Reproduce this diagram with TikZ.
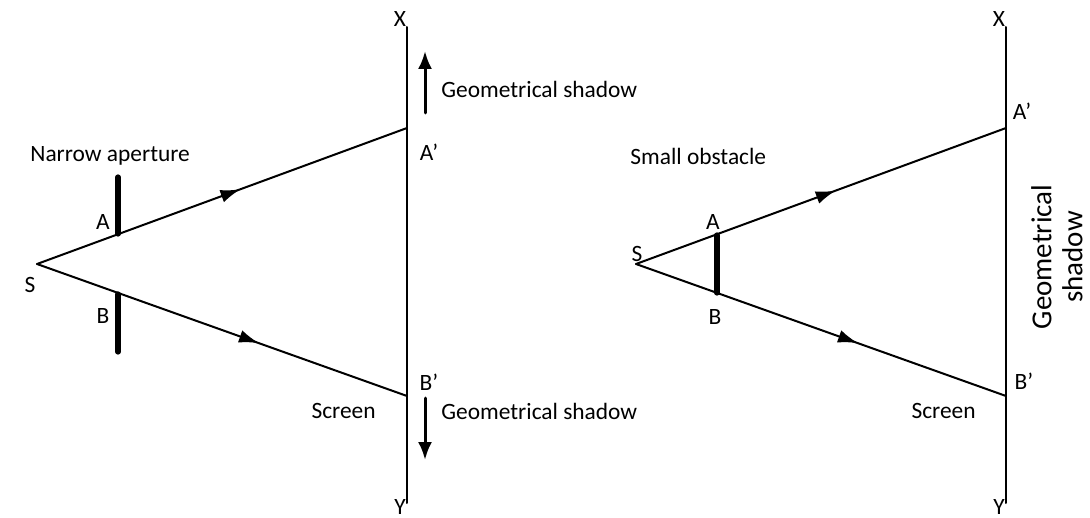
\documentclass[tikz,border=0pt]{standalone}
\usepackage{fontspec}
\setmainfont{Carlito}
\usetikzlibrary{arrows.meta,decorations.markings}

\tikzset{
  ray/.style={line width=1pt},
  midarrow/.style={ray,postaction={decorate},decoration={markings,
      mark=at position #1 with {\arrow{Latex[length=10pt,width=6.5pt]}}}},
  bar/.style={line width=2.6pt},
  screen/.style={line width=1pt},
  shadowarrow/.style={line width=1.5pt,-{Latex[length=9pt,width=7pt]}},
  lbl/.style={inner sep=0pt}
}

\begin{document}
\begin{tikzpicture}[x=0.5pt,y=-0.5pt,line cap=round,line join=round]
\useasboundingbox (0,0) rectangle (1090,518);
\fontsize{11.7}{14}\selectfont

% narrow aperture
\coordinate (S1) at (37,264);
\coordinate (A1) at (407,128);
\coordinate (B1) at (407,396);
\coordinate (X1) at (407,27);
\coordinate (Y1) at (407,503);
\draw[screen] (X1) -- (Y1);
\draw[midarrow=0.55] (S1) -- (A1);
\draw[midarrow=0.6] (S1) -- (B1);
\draw[bar] (118,177) -- (118,234);
\draw[bar] (118,294) -- (118,352);
\draw[shadowarrow] (425,113) -- (425,51);
\draw[shadowarrow] (425,398) -- (425,460);
\node[lbl] (s1) at (30,285) {S};
\node[lbl] (a1) at (103,222) {A};
\node[lbl] (b1) at (103,316) {B};
\node[lbl] (x1) at (400,19) {X};
\node[lbl] (y1) at (400,507) {Y};
\node[lbl] (ap1) at (429,152) {A’};
\node[lbl] (bp1) at (429,382) {B’};
\node[lbl,anchor=west] (nar) at (30,156) {Narrow aperture};
\node[lbl,anchor=west] (gs1) at (441,89) {Geometrical shadow};
\node[lbl,anchor=west] (gs2) at (441,411) {Geometrical shadow};
\node[lbl,anchor=east] (sc1) at (376,411) {Screen};

% small obstacle
\coordinate (S2) at (636,264);
\coordinate (A2) at (1006,128);
\coordinate (B2) at (1006,396);
\coordinate (X2) at (1006,27);
\coordinate (Y2) at (1006,503);
\draw[screen] (X2) -- (Y2);
\draw[midarrow=0.54] (S2) -- (A2);
\draw[midarrow=0.6] (S2) -- (B2);
\draw[bar] (717,235) -- (717,293);
\node[lbl] (s2) at (637,254) {S};
\node[lbl] (a2) at (713,222) {A};
\node[lbl] (b2) at (715,317) {B};
\node[lbl] (x2) at (999,19) {X};
\node[lbl] (y2) at (999,507) {Y};
\node[lbl] (ap2) at (1022,111) {A’};
\node[lbl] (bp2) at (1024,381) {B’};
\node[lbl,anchor=west] (obs) at (630,156) {Small obstacle};
\node[lbl,anchor=east] (sc2) at (976,411) {Screen};
\node[lbl,rotate=90,align=center,font=\fontsize{14.5}{15.5}\selectfont] (gs3) at (1057,257) {Geometrical\\shadow};
\end{tikzpicture}
\end{document}
